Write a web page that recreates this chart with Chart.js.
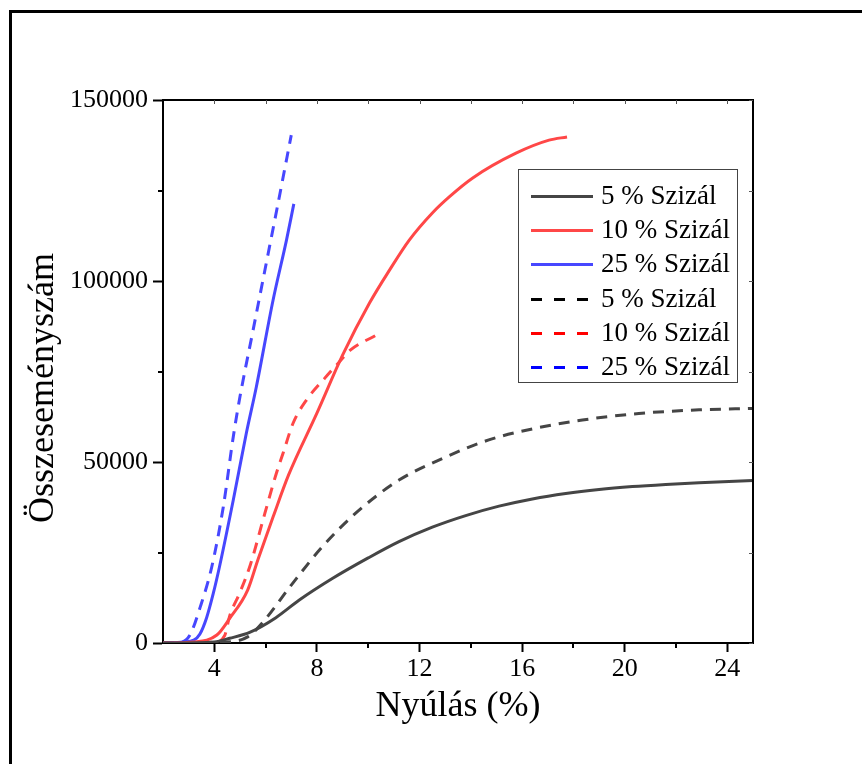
<!DOCTYPE html>
<html>
<head>
<meta charset="utf-8">
<script src="https://cdn.jsdelivr.net/npm/chart.js@4.4.1/dist/chart.umd.min.js"></script>
<style>
  html, body { margin: 0; padding: 0; background: #ffffff; }
  canvas { display: block; }
</style>
</head>
<body>
<canvas id="chart" width="862" height="764"></canvas>
<script>
// Cumulative acoustic event count versus elongation for sisal-fibre composites
const seriesLabels = ['5 % Szizál', '10 % Szizál', '25 % Szizál', '5 % Szizál', '10 % Szizál', '25 % Szizál'];

// solid curves
const strainA5  = [2, 4, 4.6, 5.4, 6.4, 7.3, 8.6, 10, 11.2, 12.5, 13.8, 15.1, 16.4, 17.7, 19, 20.3, 21.6, 22.9, 25];
const eventsA5  = [0, 300, 1300, 3000, 7000, 11800, 17800, 23500, 28000, 32000, 35200, 37800, 39800, 41300, 42400, 43200, 43800, 44300, 44900];
const strainA10 = [2, 3.2, 4.1, 4.6, 5.3, 5.7, 6.3, 6.9, 8.0, 9.0, 10.05, 10.83, 11.6, 12.5, 13.17, 14.06, 15.76, 17.05, 17.75];
const eventsA10 = [0, 300, 2200, 6800, 14600, 23000, 35000, 46500, 63500, 79500, 93900, 103000, 111300, 118800, 123300, 128400, 135300, 138900, 139800];
const strainA25 = [2, 2.8, 3.2, 3.44, 3.7, 3.96, 4.2, 4.74, 5.25, 5.64, 6.29, 6.82, 7.1];
const eventsA25 = [0, 300, 800, 2500, 7000, 13700, 21000, 39500, 58000, 70800, 94700, 111500, 121300];

// dashed curves
const strainB5  = [2, 4.5, 5.3, 5.9, 7.0, 8.2, 9.5, 11.2, 12.9, 14.7, 16.5, 18.35, 20.55, 22.9, 25];
const eventsB5  = [0, 300, 1700, 5800, 16000, 26500, 35800, 45000, 51000, 56100, 59300, 61600, 63400, 64400, 64800];
const strainB10 = [2, 4.0, 4.4, 4.6, 5.0, 5.4, 5.97, 6.42, 6.68, 7.07, 7.59, 8.3, 8.88, 9.3, 10.3];
const eventsB10 = [0, 200, 2000, 7500, 14000, 21500, 35800, 46900, 52400, 60700, 67100, 73100, 77700, 80900, 85000];
const strainB25 = [2, 2.7, 3.05, 3.45, 3.9, 4.35, 4.74, 5.0, 5.5, 6.0, 6.5, 7.0];
const eventsB25 = [0, 200, 2200, 9900, 21000, 37600, 57000, 68000, 86000, 104000, 122000, 140300];

// axis ticks
const xTicks = [4, 8, 12, 16, 20, 24];
const xMinorTicks = [6, 10, 14, 18, 22];
const yTicks = [0, 50000, 100000, 150000];
const yMinorTicks = [25000, 75000, 125000];

const xTitle = 'Nyúlás (%)';
const yTitle = 'Összeseményszám';

const SERIF = '"Liberation Serif", "Times New Roman", serif';

function pts(xs, ys) { return xs.map((x, i) => ({ x: x, y: ys[i] })); }

const lineStyles = [
  { color: '#454545', legend: '#454545', dash: [] },
  { color: '#ff4747', legend: '#ff4747', dash: [] },
  { color: '#4747ff', legend: '#4747ff', dash: [] },
  { color: '#454545', legend: '#000000', dash: [11, 8] },
  { color: '#ff4747', legend: '#ff0000', dash: [11, 8] },
  { color: '#4747ff', legend: '#0000ff', dash: [11, 8] }
];
const seriesData = [
  pts(strainA5, eventsA5), pts(strainA10, eventsA10), pts(strainA25, eventsA25),
  pts(strainB5, eventsB5), pts(strainB10, eventsB10), pts(strainB25, eventsB25)
];

const datasets = seriesData.map((d, i) => ({
  label: seriesLabels[i],
  data: d,
  showLine: true,
  borderColor: lineStyles[i].color,
  borderWidth: 3,
  borderDash: lineStyles[i].dash,
  pointRadius: 0,
  cubicInterpolationMode: 'monotone',
  fill: false
}));

const decorations = {
  id: 'decorations',
  beforeDraw(chart) {
    const ctx = chart.ctx;
    ctx.save();
    ctx.fillStyle = '#ffffff';
    ctx.fillRect(0, 0, chart.width, chart.height);
    // outer frame
    ctx.strokeStyle = '#000000';
    ctx.lineWidth = 3;
    ctx.strokeRect(10.5, 11.5, 1200, 1200);
    ctx.restore();
  },
  afterDraw(chart) {
    const ctx = chart.ctx;
    const a = chart.chartArea;
    const xs = chart.scales.x, ys = chart.scales.y;
    ctx.save();
    ctx.strokeStyle = '#000000';
    ctx.lineWidth = 2;
    // top and right frame of the plot
    ctx.beginPath();
    ctx.moveTo(a.left, a.top);
    ctx.lineTo(a.right, a.top);
    ctx.lineTo(a.right, a.bottom);
    ctx.stroke();
    // minor ticks on the bottom and left axes
    ctx.beginPath();
    xMinorTicks.forEach(v => {
      const px = Math.round(xs.getPixelForValue(v));
      ctx.moveTo(px, a.bottom); ctx.lineTo(px, a.bottom + 5);
    });
    yMinorTicks.forEach(v => {
      const py = Math.round(ys.getPixelForValue(v));
      ctx.moveTo(a.left, py); ctx.lineTo(a.left - 5, py);
    });
    ctx.stroke();
    // inward ticks on top and right
    ctx.lineWidth = 1;
    ctx.strokeStyle = '#555555';
    ctx.beginPath();
    xTicks.concat(xMinorTicks).forEach(v => {
      const px = Math.round(xs.getPixelForValue(v)) + 0.5;
      ctx.moveTo(px, a.top); ctx.lineTo(px, a.top + 4);
    });
    yTicks.concat(yMinorTicks).forEach(v => {
      const py = Math.round(ys.getPixelForValue(v)) + 0.5;
      ctx.moveTo(a.right, py); ctx.lineTo(a.right - 4, py);
    });
    ctx.stroke();

    // axis titles
    ctx.fillStyle = '#000000';
    ctx.font = '36px ' + SERIF;
    ctx.textAlign = 'center';
    ctx.textBaseline = 'middle';
    ctx.fillText(xTitle, (a.left + a.right) / 2, 707);
    ctx.save();
    ctx.translate(44, 388);
    ctx.rotate(-Math.PI / 2);
    ctx.fillText(yTitle, 0, 0);
    ctx.restore();

    // legend
    const box = { left: 518, top: 169, right: 737, bottom: 382 };
    ctx.lineWidth = 1;
    ctx.strokeStyle = '#444444';
    ctx.strokeRect(box.left + 0.5, box.top + 0.5, box.right - box.left, box.bottom - box.top);
    ctx.font = '27px ' + SERIF;
    ctx.textAlign = 'left';
    ctx.textBaseline = 'middle';
    chart.data.datasets.forEach((ds, i) => {
      const y = 196 + i * 34.2;
      ctx.save();
      ctx.strokeStyle = lineStyles[i].legend;
      ctx.lineWidth = 3;
      ctx.setLineDash(lineStyles[i].dash.length ? [11, 12] : []);
      ctx.beginPath();
      ctx.moveTo(531, Math.round(y) + 0.5);
      ctx.lineTo(593, Math.round(y) + 0.5);
      ctx.stroke();
      ctx.restore();
      ctx.fillStyle = '#000000';
      ctx.fillText(ds.label, 601, y + 1);
    });
    ctx.restore();
  }
};

new Chart(document.getElementById('chart'), {
  type: 'scatter',
  data: { datasets: datasets },
  options: {
    responsive: false,
    animation: false,
    devicePixelRatio: 1,
    layout: { padding: { top: 100, right: 109, left: 0, bottom: 0 } },
    plugins: { legend: { display: false }, tooltip: { enabled: false } },
    scales: {
      x: {
        type: 'linear',
        min: 2,
        max: 25,
        afterFit(scale) { scale.height = 121; },
        afterBuildTicks(scale) { scale.ticks = xTicks.map(v => ({ value: v })); },
        border: { display: true, color: '#000000', width: 2 },
        grid: { drawOnChartArea: false, drawTicks: true, tickLength: 9, tickColor: '#000000', tickWidth: 2 },
        ticks: {
          color: '#000000',
          font: { family: SERIF, size: 26 },
          padding: 2,
          maxRotation: 0,
          callback: v => String(v)
        }
      },
      y: {
        type: 'linear',
        min: 0,
        max: 150000,
        afterFit(scale) { scale.width = 163; },
        afterBuildTicks(scale) { scale.ticks = yTicks.map(v => ({ value: v })); },
        border: { display: true, color: '#000000', width: 2 },
        grid: { drawOnChartArea: false, drawTicks: true, tickLength: 10, tickColor: '#000000', tickWidth: 2 },
        ticks: {
          color: '#000000',
          font: { family: SERIF, size: 26 },
          padding: 5,
          callback: v => String(v)
        }
      }
    }
  },
  plugins: [decorations]
});
</script>
</body>
</html>
